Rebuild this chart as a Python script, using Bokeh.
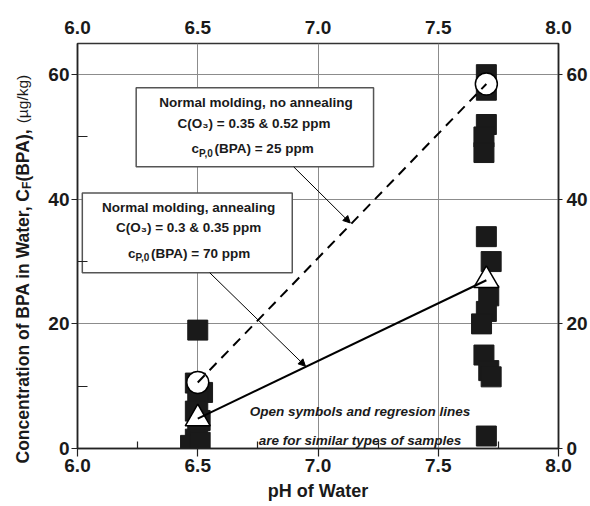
import math
from bokeh.plotting import figure
from bokeh.layouts import row
from bokeh.models import (FixedTicker, LinearAxis, Range1d, Arrow, NormalHead,
                          NumeralTickFormatter)
from bokeh.embed import file_html
from bokeh.resources import INLINE
from bokeh.core.properties import value

# ---------------- data ----------------
sq_ph = [6.50, 6.49, 6.52, 6.50, 6.49, 6.51, 6.50, 6.49, 6.47, 6.51,
         7.70, 7.70, 7.70, 7.69, 7.69, 7.70, 7.72, 7.71, 7.70, 7.68, 7.69, 7.71, 7.72, 7.70]
sq_conc = [19.0, 10.5, 9.0, 7.5, 6.0, 4.5, 3.0, 1.5, 0.5, 1.0,
           60.0, 57.5, 52.0, 50.0, 47.5, 34.0, 30.0, 24.5, 22.0, 20.0, 15.0, 12.5, 11.5, 2.0]
circle_ph = [6.5, 7.7]
circle_conc = [10.6, 58.5]
tri_ph = [6.5, 7.7]
tri_conc = [4.8, 27.0]

x_ticks = [6.0, 6.5, 7.0, 7.5, 8.0]
x_minor = [6.25, 6.75, 7.25, 7.75]
x_grid = [6.5, 7.0, 7.5]
y_ticks = [0, 20, 40, 60]
y_minor = [10, 30, 50]
y_grid = [20, 40, 60]

box1_lines = ["Normal molding, no annealing", "C(O\u2083) = 0.35 & 0.52 ppm"]
box1_cp = "25"
box2_lines = ["Normal molding, annealing", "C(O\u2083) = 0.3 & 0.35 ppm"]
box2_cp = "70"
note_lines = ["Open symbols and regresion lines", "are for similar types of samples"]
ylabel_parts = ["Concentration of  BPA in Water, C", "F", "(BPA),", "(\u00b5g/kg)"]

FONT = "'Liberation Sans', Arial, sans-serif"
NARROW = "'Liberation Sans Narrow', 'Arial Narrow', 'Liberation Sans', sans-serif"
INK = "#1a1a1a"
W_LAB = 45
H = 506

# ---------------- main figure ----------------
p = figure(width=590 - W_LAB, height=H, x_range=Range1d(6.0, 8.0), y_range=Range1d(0, 65),
           output_backend="svg", toolbar_location=None,
           min_border_left=77 - W_LAB, min_border_right=28, min_border_top=43,
           min_border_bottom=58)
p.background_fill_color = "white"
p.border_fill_color = "white"
p.outline_line_color = "#333333"
p.outline_line_width = 1.5

def base_style(ax, size):
    ax.major_label_text_font = NARROW
    ax.major_label_text_font_style = "bold"
    ax.major_label_text_font_size = size
    ax.major_label_text_color = INK
    ax.axis_line_color = "#222222"
    ax.axis_line_width = 1.5
    ax.major_tick_line_color = "#222222"
    ax.minor_tick_line_color = "#222222"
    ax.major_tick_line_width = 1.2
    ax.minor_tick_line_width = 1.2

# bottom axis
xb = p.below[0]
xb.ticker = FixedTicker(ticks=x_ticks, minor_ticks=x_minor)
xb.formatter = NumeralTickFormatter(format="0.0")
base_style(xb, "19px")
xb.major_tick_out = 8
xb.major_tick_in = 0
xb.minor_tick_in = 7
xb.minor_tick_out = 0
xb.major_label_standoff = 2
xb.axis_label = "pH of Water"
xb.axis_label_text_font = FONT
xb.axis_label_text_font_style = "bold"
xb.axis_label_text_font_size = "18px"
xb.axis_label_text_color = INK
xb.axis_label_standoff = 6

# left axis
yl = p.left[0]
yl.ticker = FixedTicker(ticks=y_ticks, minor_ticks=y_minor)
base_style(yl, "19px")
yl.major_tick_out = 6
yl.major_tick_in = 0
yl.minor_tick_in = 10
yl.minor_tick_out = 0
yl.major_label_standoff = 2

# top axis
xt = LinearAxis(ticker=FixedTicker(ticks=x_ticks, minor_ticks=[]),
                formatter=NumeralTickFormatter(format="0.0"))
base_style(xt, "19px")
xt.axis_line_color = None
xt.major_tick_out = 0
xt.major_tick_in = 0
xt.minor_tick_in = 0
xt.minor_tick_out = 0
xt.major_label_standoff = 10
p.add_layout(xt, "above")

# right axis
yr = LinearAxis(ticker=FixedTicker(ticks=y_ticks, minor_ticks=[]))
base_style(yr, "19px")
yr.major_tick_out = 4
yr.major_tick_in = 0
yr.minor_tick_in = 0
yr.minor_tick_out = 0
yr.major_label_standoff = 4
p.add_layout(yr, "right")

# grid
p.xgrid.ticker = FixedTicker(ticks=x_grid)
p.ygrid.ticker = FixedTicker(ticks=y_grid)
p.grid.grid_line_color = "#8c8c8c"
p.grid.grid_line_width = 1

# annotation boxes
p.quad(left=[6.244, 6.02], right=[7.231, 6.893], bottom=[45.2, 28.2], top=[57.9, 41.0],
       fill_color="white", line_color="#555555", line_width=1.5)

txt_kw = dict(text_font=value(FONT), text_font_style="bold", text_font_size="13.5px",
              text_color=INK, text_baseline="middle")
p.text(x=[6.742, 6.734], y=[55.5, 52.1], text=box1_lines, text_align="center", **txt_kw)
p.text(x=[6.462, 6.462], y=[38.7, 35.5], text=box2_lines, text_align="center", **txt_kw)

def cp_line(x0, y0, num):
    p.text(x=[x0], y=[y0], text=["c"], text_align="left", **txt_kw)
    sub = dict(txt_kw)
    sub["text_font_size"] = "10px"
    p.text(x=[x0], y=[y0 - 0.7], text=["P,0"], text_align="left", x_offset=7.5, **sub)
    p.text(x=[x0], y=[y0], text=["(BPA) = " + num + " ppm"], text_align="left",
           x_offset=23, **txt_kw)

cp_line(6.474, 48.1, box1_cp)
cp_line(6.21, 31.3, box2_cp)

# note
p.text(x=[7.175, 7.175], y=[5.94, 1.35], text=note_lines, text_align="center",
       text_font=value(FONT), text_font_style="bold italic", text_font_size="13.5px",
       text_color=INK, text_baseline="middle")

# data
p.scatter(sq_ph, sq_conc, marker="square", size=20, fill_color=INK, line_color=INK)
p.scatter(circle_ph, circle_conc, marker="circle", size=22, fill_color="white",
          line_color="black", line_width=1.5)
p.scatter(tri_ph, tri_conc, marker="triangle", size=25, fill_color="white",
          line_color="black", line_width=1.5)
p.line(circle_ph, circle_conc, line_color="black", line_width=2, line_dash="10 7")
p.line(tri_ph, tri_conc, line_color="black", line_width=2)

# arrows
p.add_layout(Arrow(x_start=6.899, y_start=45.2, x_end=7.134, y_end=36.2,
                   end=NormalHead(size=7, fill_color="black", line_color="black"),
                   line_color="black", line_width=1))
p.add_layout(Arrow(x_start=6.55, y_start=28.2, x_end=6.948, y_end=13.2,
                   end=NormalHead(size=7, fill_color="black", line_color="black"),
                   line_color="black", line_width=1))

# ---------------- y-axis title strip (rotated text pieces) ----------------
lab = figure(frame_width=W_LAB, frame_height=H, x_range=Range1d(0, W_LAB),
             y_range=Range1d(0, H), output_backend="svg", toolbar_location=None,
             x_axis_location=None, y_axis_location=None, title=None,
             min_border_left=0, min_border_right=0, min_border_top=0, min_border_bottom=0)
lab.grid.visible = False
lab.outline_line_color = None
lab.background_fill_color = "white"
lab.border_fill_color = "white"

# positions in pixels of the strip (y measured from the bottom of the page)
lab_x = [22, 26, 22, 22]
lab_y = [86, 360.6, 367.9, 426.2]
lab_size = ["17.5px", "12px", "17.5px", "15.5px"]
lab_style = ["bold", "bold", "bold", "normal"]
for t, xx, yy, sz, st in zip(ylabel_parts, lab_x, lab_y, lab_size, lab_style):
    lab.text(x=[xx], y=[yy], text=[t], angle=math.pi / 2, text_align="left",
             text_baseline="middle", text_font=value(FONT), text_font_style=st,
             text_font_size=sz, text_color=INK)

layout = row(lab, p, spacing=0)
open("out.html", "w").write(file_html(layout, INLINE))
